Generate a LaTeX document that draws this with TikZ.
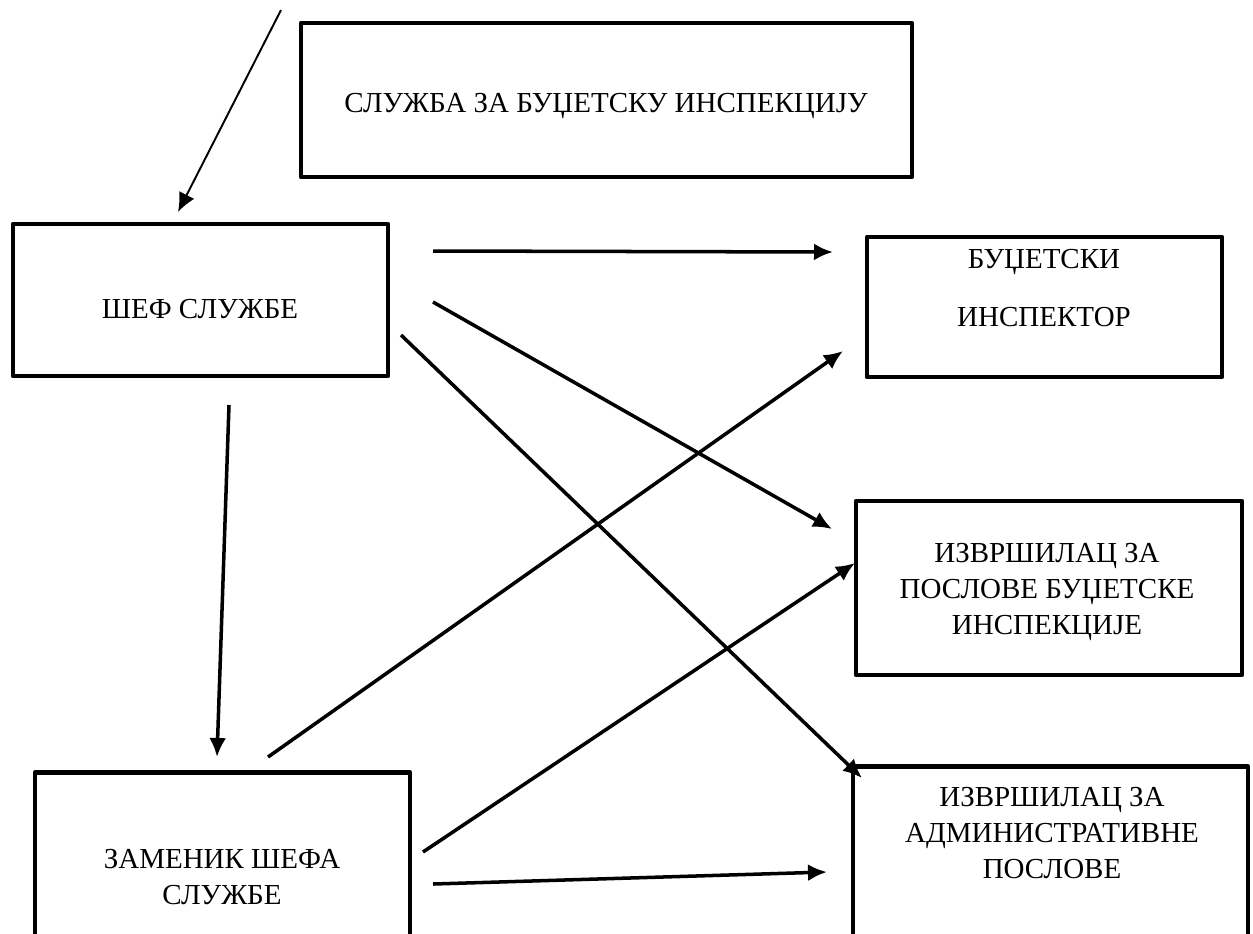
\documentclass[tikz,border=0pt]{standalone}
\usepackage{fontspec}
\setmainfont{Liberation Serif}
\usetikzlibrary{arrows.meta}
\usetikzlibrary{positioning}

\begin{document}
\begin{tikzpicture}[x=0.2mm, y=-0.2mm, >={Latex[length=3.8mm, width=3.4mm]},
    box/.style={draw, rectangle, line width=2.5pt, line join=round, inner sep=0pt},
    lbl/.style={align=center, inner sep=0pt, font=\fontsize{16.5}{20.5}\selectfont},
    conn/.style={->, line width=2pt}]

        \useasboundingbox (0,0) rectangle (1253,933);

        % boxes
        \node[box, minimum width=122.2mm, minimum height=30.8mm] (sluzba)  at (606.5,100)  {};
        \node[box, minimum width=75mm,    minimum height=30.4mm] (shef)    at (200.5,300)  {};
        \node[box, minimum width=71mm,    minimum height=28mm]   (insp)    at (1044.5,307) {};
        \node[box, minimum width=77.2mm,  minimum height=34.8mm] (poslove) at (1049,588)   {};
        \node[box, minimum width=79mm,    minimum height=36.6mm] (adm)     at (1050.5,858) {};
        \node[box, minimum width=75mm,    minimum height=35.4mm] (zamenik) at (222.5,861)  {};

        % texts
        \node[lbl] (t_sluzba)  at (606,106)   {СЛУЖБА ЗА БУЏЕТСКУ ИНСПЕКЦИЈУ};
        \node[lbl] (t_shef)    at (200,309)   {ШЕФ СЛУЖБЕ};
        \node[lbl] (t_insp)    at (1044,288)  {БУЏЕТСКИ\\[12pt]ИНСПЕКТОР};
        \node[lbl] (t_poslove) at (1047,592)  {ИЗВРШИЛАЦ ЗА\\ПОСЛОВЕ БУЏЕТСКЕ\\ИНСПЕКЦИЈЕ};
        \node[lbl] (t_adm)     at (1052,833)  {ИЗВРШИЛАЦ ЗА\\АДМИНИСТРАТИВНЕ\\ПОСЛОВЕ};
        \node[lbl] (t_zamenik) at (222,877)   {ЗАМЕНИК ШЕФА\\СЛУЖБЕ};

        % arrow ends
        \coordinate (in_0)  at (281,10);
        \coordinate (out_0) at (178,212);
        \coordinate (s_1) at (433,251);  \coordinate (e_1) at (833,252);
        \coordinate (s_2) at (433,302);  \coordinate (e_2) at (832,529);
        \coordinate (s_3) at (401,335);  \coordinate (e_3) at (862,778);
        \coordinate (s_4) at (229,405);  \coordinate (e_4) at (217,757);
        \coordinate (s_5) at (268,757);  \coordinate (e_5) at (843,351);
        \coordinate (s_6) at (423,852);  \coordinate (e_6) at (855,563);
        \coordinate (s_7) at (433,884);  \coordinate (e_7) at (827,872);

        \draw[->, line width=1.1pt] (in_0) -- (out_0);

        \path[conn]
          (s_1) edge (e_1)
          (s_2) edge (e_2)
          (s_3) edge (e_3)
          (s_4) edge (e_4)
          (s_5) edge (e_5)
          (s_6) edge (e_6)
          (s_7) edge (e_7);

\end{tikzpicture}
\end{document}
